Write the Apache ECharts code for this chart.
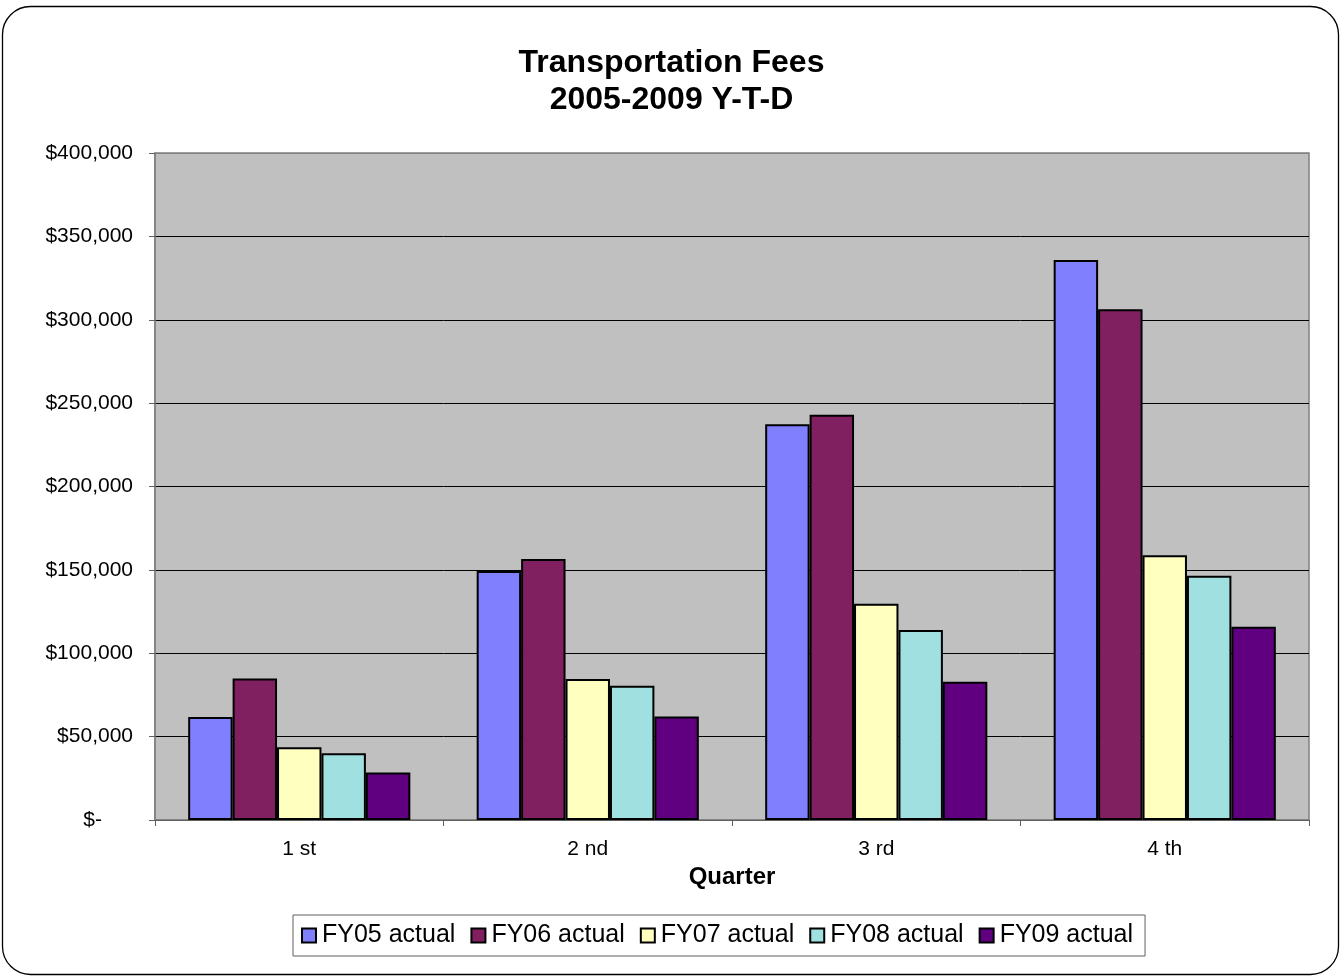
<!DOCTYPE html>
<html>
<head>
<meta charset="utf-8">
<script src="https://cdn.jsdelivr.net/npm/echarts@6/dist/echarts.min.js"></script>
<style>
html,body{margin:0;padding:0;background:#fff;}
#chart{width:1343px;height:977px;}
</style>
</head>
<body>
<div id="chart"></div>
<script>
const categories = ['1 st', '2 nd', '3 rd', '4 th'];
const seriesNames = ['FY05 actual', 'FY06 actual', 'FY07 actual', 'FY08 actual', 'FY09 actual'];
const fy05 = [61800, 149300, 237300, 335800];
const fy06 = [84800, 156500, 243000, 306300];
const fy07 = [43700, 84600, 129700, 158700];
const fy08 = [40100, 80500, 114000, 146500];
const fy09 = [28500, 62000, 82900, 115900];
const colors = ['#8080FF', '#802060', '#FFFFC0', '#A0E0E0', '#600080'];
const yTicks = [0, 50000, 100000, 150000, 200000, 250000, 300000, 350000, 400000];

const allValues = [fy05, fy06, fy07, fy08, fy09];
const font = 'Liberation Sans, Arial, sans-serif';

function fmt(v) {
  if (v === 0) return '{z|$-}';
  return '$' + v.toLocaleString('en-US');
}

const gridColors = yTicks.map((t, i) => (i === yTicks.length - 1 ? '#808080' : '#000'));

const chart = echarts.init(document.getElementById('chart'), null, {renderer: 'canvas'});
chart.setOption({
  animation: false,
  backgroundColor: '#fff',
  color: colors,
  graphic: [{
    type: 'rect',
    shape: {x: 2.5, y: 6.5, width: 1336, height: 968, r: 28},
    style: {fill: 'none', stroke: '#000', lineWidth: 1.3},
    z: -10
  }],
  title: {
    text: 'Transportation Fees\n2005-2009 Y-T-D',
    left: 'center',
    top: 40,
    textStyle: {fontFamily: font, fontSize: 32, fontWeight: 'bold', color: '#000', lineHeight: 37}
  },
  legend: {
    data: seriesNames,
    bottom: 21,
    left: 293,
    icon: 'rect',
    itemWidth: 14,
    itemHeight: 14,
    itemGap: 15,
    padding: [8, 12, 8, 8],
    borderColor: '#606060',
    borderWidth: 1,
    itemStyle: {borderColor: '#000', borderWidth: 2},
    textStyle: {fontFamily: font, fontSize: 25, color: '#000', padding: [0, 0, 0, 1]}
  },
  grid: {left: 155, right: 34, top: 153, bottom: 157, show: true, backgroundColor: '#C0C0C0', borderColor: '#808080', borderWidth: 1.5},
  xAxis: {
    type: 'category',
    data: categories,
    name: 'Quarter',
    nameLocation: 'middle',
    nameGap: 37,
    nameTextStyle: {fontFamily: font, fontSize: 24, fontWeight: 'bold', color: '#000'},
    axisLine: {lineStyle: {color: '#808080', width: 1.5}},
    axisTick: {show: true, length: 6, lineStyle: {color: '#606060'}},
    axisLabel: {fontFamily: font, fontSize: 21, color: '#000', margin: 19}
  },
  yAxis: {
    type: 'value',
    min: 0,
    max: 400000,
    interval: 50000,
    axisLine: {show: true, lineStyle: {color: '#808080', width: 1.5}},
    axisTick: {show: true, length: 6, lineStyle: {color: '#606060'}},
    axisLabel: {
      fontFamily: font, fontSize: 21, color: '#000', margin: 22, formatter: fmt,
      rich: {z: {fontFamily: font, fontSize: 21, color: '#000', padding: [0, 31, 0, 0]}}
    },
    splitLine: {show: true, lineStyle: {color: gridColors, width: 1}}
  },
  series: seriesNames.map((name, i) => ({
    name: name,
    type: 'bar',
    data: allValues[i],
    barGap: '0%',
    barCategoryGap: '23%',
    itemStyle: {color: colors[i], borderColor: '#000', borderWidth: 2}
  }))
});
</script>
</body>
</html>
